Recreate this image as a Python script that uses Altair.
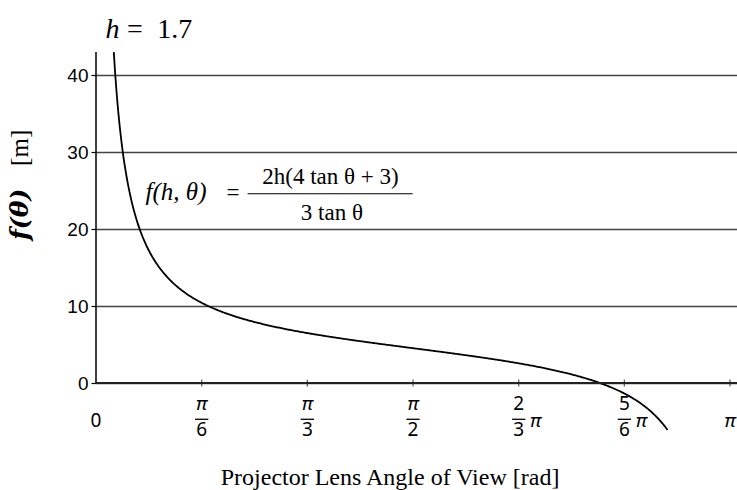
import numpy as np
import pandas as pd
import altair as alt

# Parameter and plotted range of the lens angle
H = 1.7
THETA_START = 0.0882
THETA_END = 2.832
X_MAX = 3.176
Y_MIN, Y_MAX = -7, 43
Y_AXIS_TOP = 43

# f(h, theta) = 2h(4 tan(theta) + 3) / (3 tan(theta))
theta = np.linspace(THETA_START, THETA_END, 500)
tan_t = np.sin(theta) / np.cos(theta)
f_vals = 2 * H * (4 * tan_t + 3) / (3 * tan_t)
curve_df = pd.DataFrame({"theta": theta, "f": f_vals})

# x tick positions and their stacked-fraction labels
tick_theta = [0, np.pi / 6, np.pi / 3, np.pi / 2, 2 * np.pi / 3, 5 * np.pi / 6, np.pi]
tick_num = ["", "π", "π", "π", "2", "5", ""]
tick_den = ["", "6", "3", "2", "3", "6", ""]
tick_suffix = ["", "", "", "", "π", "π", ""]
tick_plain = ["0", "", "", "", "", "", "π"]

y_ticks = [0, 10, 20, 30, 40]

xs = alt.Scale(domain=[0, X_MAX], nice=False, zero=False)
ys = alt.Scale(domain=[Y_MIN, Y_MAX], nice=False, zero=False)

# shared left axis: ticks, labels and horizontal grid
y_axis = alt.Axis(
    values=y_ticks, title=None, domain=False, grid=True,
    gridColor="#444444", gridWidth=1.3,
    ticks=True, tickSize=5, tickColor="black", tickWidth=1.2,
    labelFont="Liberation Sans", labelFontSize=19, labelColor="black",
    labelPadding=3,
)

# label rows (in data units below the axis)
NUM_Y, BAR_Y, DEN_Y, PLAIN_Y = -3.5, -4.7, -6.85, -5.65
BAR_HALF = 0.033
SUFFIX_DX = 0.084

italic_rows, upright_rows, bar_rows = [], [], []
for t, n, d, s, p in zip(tick_theta, tick_num, tick_den, tick_suffix, tick_plain):
    if p:
        (italic_rows if p == "π" else upright_rows).append({"x": t, "y": PLAIN_Y, "label": p})
    if n:
        (italic_rows if n == "π" else upright_rows).append({"x": t, "y": NUM_Y, "label": n})
        upright_rows.append({"x": t, "y": DEN_Y, "label": d})
        bar_rows.append({"x": t - BAR_HALF, "x2": t + BAR_HALF, "y": BAR_Y})
    if s:
        italic_rows.append({"x": t + SUFFIX_DX, "y": PLAIN_Y, "label": s})


def enc_xy(chart, xf="x:Q", yf="y:Q"):
    return chart.encode(
        x=alt.X(xf, scale=xs, axis=None),
        y=alt.Y(yf, scale=ys, axis=y_axis),
    )


def text_layer(rows, size, font, style="normal", weight="normal",
               align="center", baseline="alphabetic", angle=0):
    return enc_xy(
        alt.Chart(pd.DataFrame(rows)).mark_text(
            font=font, fontSize=size, fontStyle=style, fontWeight=weight,
            align=align, baseline=baseline, angle=angle, color="black",
        )
    ).encode(text="label:N")


curve = enc_xy(
    alt.Chart(curve_df).mark_line(color="black", strokeWidth=1.8),
    xf="theta:Q", yf="f:Q",
)

x_axis_line = enc_xy(
    alt.Chart(pd.DataFrame([{"x": 0, "x2": X_MAX, "y": 0}]))
    .mark_rule(color="#222222", strokeWidth=2)
).encode(x2="x2:Q")

y_axis_line = enc_xy(
    alt.Chart(pd.DataFrame([{"x": 0, "y": 0, "y2": Y_AXIS_TOP}]))
    .mark_rule(color="black", strokeWidth=1.5)
).encode(y2="y2:Q")

x_ticks = enc_xy(
    alt.Chart(pd.DataFrame({"x": tick_theta[1:], "y": [0] * (len(tick_theta) - 1)}))
    .mark_tick(orient="vertical", size=7, thickness=1.3, color="#222222")
)

tick_bars = enc_xy(
    alt.Chart(pd.DataFrame(bar_rows)).mark_rule(color="black", strokeWidth=1.3)
).encode(x2="x2:Q")

tick_italic = text_layer(italic_rows, 19, "Noto Sans", style="italic")
tick_upright = text_layer(upright_rows, 19, "Noto Sans")

# formula annotation
formula_lhs = text_layer([{"x": 0.2457, "y": 23.8, "label": "f(h, θ)"}],
                         25, "Liberation Serif", style="italic", align="left")
formula_eq = text_layer([{"x": 0.679, "y": 23.8, "label": "="}], 23, "Liberation Serif")
formula_frac = text_layer(
    [{"x": 1.162, "y": 25.9, "label": "2h(4 tan θ + 3)"},
     {"x": 1.169, "y": 21.2, "label": "3 tan θ"}],
    23, "Liberation Serif",
)
formula_bar = enc_xy(
    alt.Chart(pd.DataFrame([{"x": 0.751, "x2": 1.569, "y": 24.6}]))
    .mark_rule(color="black", strokeWidth=1.1)
).encode(x2="x2:Q")

# heading h = 1.7
head_h = text_layer([{"x": 0.047, "y": 44.8, "label": "h"}], 28, "Liberation Serif",
                    style="italic", align="left")
head_rest = text_layer(
    [{"x": 0.153, "y": 44.8, "label": "="}, {"x": 0.304, "y": 44.8, "label": "1.7"}],
    28, "Liberation Serif", align="left",
)

# axis titles
y_title_f = text_layer([{"x": -0.335, "y": 18.6, "label": "f(θ)"}], 25, "DejaVu Serif",
                       style="italic", weight="bold", align="left", angle=270)
y_title_unit = text_layer([{"x": -0.335, "y": 32.9, "label": "[m]"}], 25, "Liberation Serif",
                          align="right", angle=270)
x_title = text_layer([{"x": 1.457, "y": -13.2, "label": "Projector Lens Angle of View [rad]"}],
                     24, "Liberation Serif")

chart = alt.layer(
    curve, x_axis_line, y_axis_line, x_ticks, tick_bars, tick_italic, tick_upright,
    formula_lhs, formula_eq, formula_frac, formula_bar, head_h, head_rest,
    y_title_f, y_title_unit, x_title,
).properties(
    width=641, height=385,
    padding={"left": 96, "top": 52, "right": 0, "bottom": 53},
    autosize=alt.AutoSizeParams(type="none"),
    background="white",
).configure_view(strokeWidth=0)

chart.save("out.html", embed_options={"renderer": "svg", "actions": False})
